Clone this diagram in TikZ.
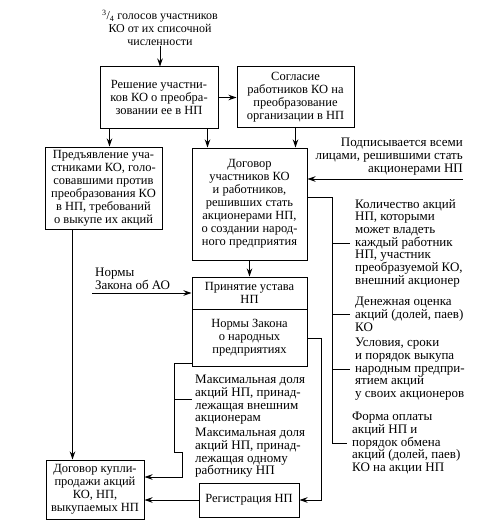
\documentclass[tikz,border=0pt]{standalone}
\usepackage{fontspec}
\setmainfont{Liberation Serif}
\usetikzlibrary{arrows.meta}

\begin{document}
\begin{tikzpicture}[x=1pt,y=-1pt,
    box/.style={draw,line width=1pt,align=center,inner sep=1pt,
      font=\fontsize{12.5}{13}\selectfont},
    note/.style={inner sep=0pt,font=\fontsize{13}{12.7}\selectfont},
    arr/.style={-{Stealth[length=8pt,width=5.5pt]},line width=1pt},
    ln/.style={line width=1pt}]
  \useasboundingbox (0,0) rectangle (503,532);
  \draw
    (160,28) node[note,align=center,font=\fontsize{12}{13}\selectfont] (golosa)
      {\textsuperscript{3}/\textsubscript{4} голосов участников\\КО от их списочной\\численности}
    (159,97.5) node[box,minimum width=118pt,minimum height=61pt] (reshenie)
      {Решение участни-\\ков КО о преобра-\\зовании ее в НП}
    (295.5,97) node[box,minimum width=117pt,minimum height=60pt] (soglasie)
      {Согласие\\работников КО на\\преобразование\\организации в НП}
    (103.5,188) node[box,minimum width=117pt,minimum height=82pt] (predyavl)
      {Предъявление уча-\\стниками КО, голо-\\совавшими против\\преобразования КО\\в НП, требований\\о выкупе их акций}
    (249.5,204) node[box,minimum width=115pt,minimum height=112pt] (dogovor)
      {Договор\\участников КО\\и работников,\\решивших стать\\акционерами НП,\\о создании народ-\\ного предприятия}
    (249.5,293) node[box,minimum width=115pt,minimum height=32pt] (ustav)
      {Принятие устава\\НП}
    (249.5,337.5) node[box,minimum width=115pt,minimum height=57pt] (normy)
      {Нормы Закона\\о народных\\предприятиях}
    (95,489.5) node[box,minimum width=98pt,minimum height=59pt] (kuplia)
      {Договор купли-\\продажи акций\\КО, НП,\\выкупаемых НП}
    (249,500) node[box,minimum width=100pt,minimum height=34pt] (registr)
      {Регистрация НП};
  % texts beside the boxes
  \draw
    (463,175) node[note,align=right,anchor=south east] (podpis)
      {Подписывается всеми\\лицами, решившими стать\\акционерами НП}
    (95,290) node[note,align=left,anchor=south west] (normyAO)
      {Нормы\\Закона об АО}
    (355,199) node[note,align=left,anchor=north west] (kolvo)
      {Количество акций\\НП, которыми\\может владеть\\каждый работник\\НП, участник\\преобразуемой КО,\\внешний акционер}
    (355,297) node[note,align=left,anchor=north west] (denezh)
      {Денежная оценка\\акций (долей, паев)\\КО}
    (355,338) node[note,align=left,anchor=north west] (usloviya)
      {Условия, сроки\\и порядок выкупа\\народным предпри-\\ятием акций\\у своих акционеров}
    (352,412) node[note,align=left,anchor=north west] (forma)
      {Форма оплаты\\акций НП и\\порядок обмена\\акций (долей, паев)\\КО на акции НП}
    (195,375) node[note,align=left,anchor=north west] (maxext)
      {Максимальная доля\\акций НП, принад-\\лежащая внешним\\акционерам}
    (195,428) node[note,align=left,anchor=north west] (maxone)
      {Максимальная доля\\акций НП, принад-\\лежащая одному\\работнику НП};
  \coordinate (podpisEnd) at (463,179);
  \coordinate (aoStart) at (92,293);
  \coordinate (brR) at (332,0);
  \begin{scope}[arr]
    \draw (golosa.south) -- (golosa.south |- reshenie.north);
    \draw (reshenie.east) -- (reshenie.east -| soglasie.west);
    \draw ([xshift=10pt]reshenie.south west) coordinate (r1) -- (r1 |- predyavl.north);
    \draw ([xshift=-11pt]reshenie.south east) coordinate (r2) -- (r2 |- dogovor.north);
    \draw (soglasie.south) -- (soglasie.south |- dogovor.north);
    \draw (podpisEnd) -- (podpisEnd -| dogovor.east);
    \draw (dogovor.south) -- (ustav.north);
    \draw (aoStart) -- (aoStart -| ustav.west);
    \draw ([xshift=28pt]predyavl.south west) coordinate (p1) -- (p1 |- kuplia.north);
    \draw ([yshift=-30pt]normy.north east) -- ++(14,0) |- (registr.east);
    \draw (registr.west) -- (registr.west -| kuplia.east);
  \end{scope}
  \begin{scope}[ln]
    \draw ([yshift=7pt]dogovor.east) -- (brR |- 0,197) -- (brR |- forma.west);
    \foreach \t in {kolvo,denezh,usloviya,forma}
      \draw (brR |- \t.west) -- ([xshift=-5pt]\t.west);
    \draw ([yshift=3pt]normy.south west) -- ++(-17,0) coordinate (brL)
      -- (brL |- maxone.west) -- ++(8,0) coordinate (brB);
    \draw (brL |- maxext.west) -- ([xshift=-3pt]maxext.west);
    \draw[arr] (brB) |- ([yshift=12.5pt]kuplia.east);
  \end{scope}
\end{tikzpicture}
\end{document}
